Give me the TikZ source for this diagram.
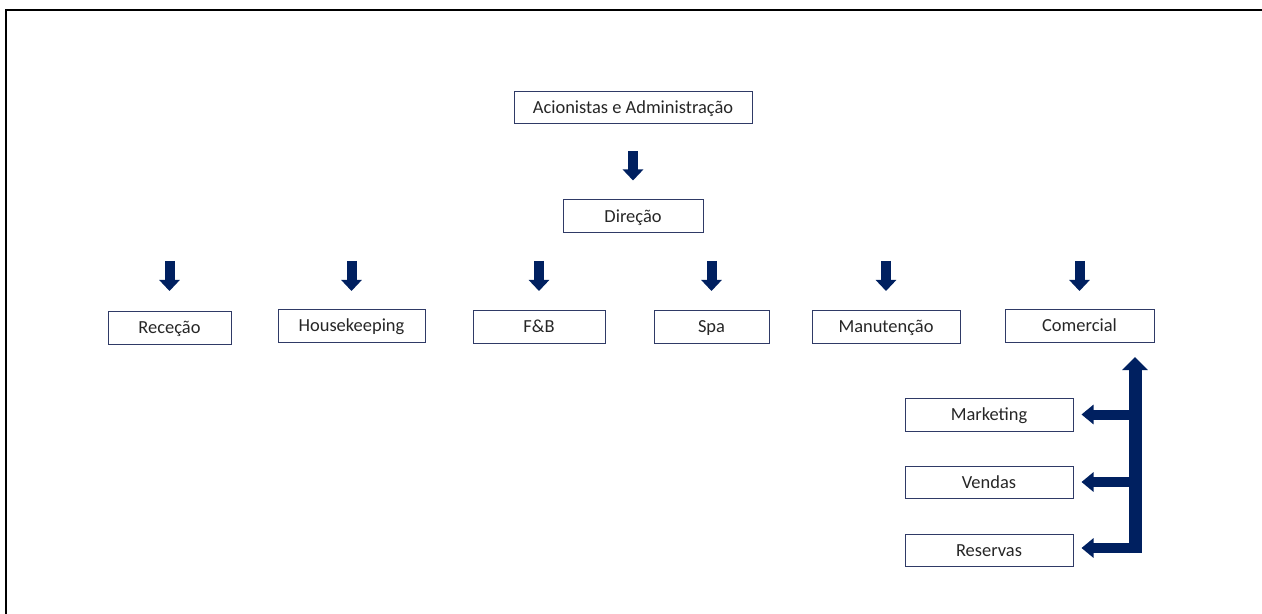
\documentclass[tikz,border=0pt]{standalone}
\usepackage{fontspec}
\setmainfont{Carlito}
\usetikzlibrary{arrows.meta,calc}
\definecolor{navy}{HTML}{002060}
\definecolor{boxc}{HTML}{2F3A66}
\definecolor{txt}{HTML}{262626}
\begin{document}
\begin{tikzpicture}[x=1bp,y=-1bp,
  box/.style={draw=boxc, line width=1bp, minimum height=32bp, inner sep=0pt,
    text height=12bp, text depth=0pt,
    text=txt, font=\fontsize{18.5}{22}\selectfont},
  blk/.style={navy, line width=10bp, -{Triangle[width=20bp,length=11bp]}},
  blkbig/.style={navy, line width=13bp, -{Triangle[width=25bp,length=13bp]}},
  blkside/.style={navy, line width=10bp, -{Triangle[width=19bp,length=12bp]}}]
\useasboundingbox (0,0) rectangle (1262,614);
\draw[line width=2bp] (6,620) -- (6,10.5) -- (1265,10.5);
% nodes
\node[box, minimum width=238bp] (acion) at (633,108) {Acionistas e Administração};
\node[box, minimum width=140bp, minimum height=33bp] (dir) at (633,216.5) {Direção};
\node[box, minimum width=123bp] (rec) at (169.5,328) {Receção};
\node[box, minimum width=147bp] (hk) at (351.5,326) {Housekeeping};
\node[box, minimum width=132bp] (fb) at (539,327) {F\&B};
\node[box, minimum width=115bp] (spa) at (711.5,327) {Spa};
\node[box, minimum width=148bp] (man) at (886,327) {Manutenção};
\node[box, minimum width=149bp] (com) at (1079.5,326) {Comercial};
\node[box, minimum width=168bp, minimum height=33bp] (mkt) at (989,414.5) {Marketing};
\node[box, minimum width=168bp] (ven) at (989,482) {Vendas};
\node[box, minimum width=168bp] (res) at (989,550) {Reservas};
% helper coordinates
\coordinate (rowstart) at (0,261);
\coordinate (rowtip) at (0,291);
\coordinate (vbot) at (1135,553);
\coordinate (vtop) at (1135,357);
\coordinate (hx) at (1135,0);
% arrows
\draw[blk] ([yshift=-27bp]acion.south) -- ([yshift=19bp]dir.north);
\draw[blk] (rec.north |- rowstart) -- (rec.north |- rowtip);
\draw[blk] (hk.north |- rowstart) -- (hk.north |- rowtip);
\draw[blk] (fb.north |- rowstart) -- (fb.north |- rowtip);
\draw[blk] (spa.north |- rowstart) -- (spa.north |- rowtip);
\draw[blk] (man.north |- rowstart) -- (man.north |- rowtip);
\draw[blk] (com.north |- rowstart) -- (com.north |- rowtip);
\draw[blkbig] (vbot) -- (vtop);
\draw[blkside] ([xshift=6bp]hx |- mkt.east) -- ([xshift=8bp]mkt.east);
\draw[blkside] ([xshift=6bp]hx |- ven.east) -- ([xshift=8bp]ven.east);
\draw[blkside] ([xshift=6.5bp]hx |- 0,548) -- ([xshift=8bp]res.east |- 0,548);
\end{tikzpicture}
\end{document}
